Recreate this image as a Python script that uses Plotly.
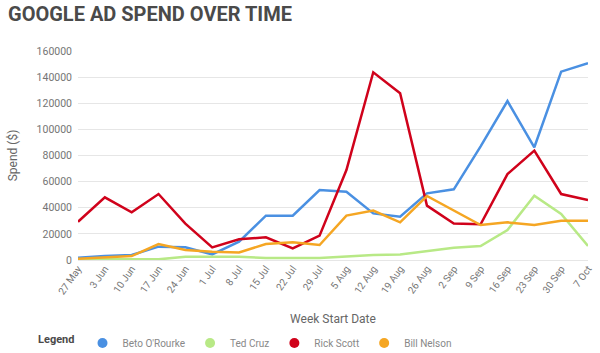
import plotly.graph_objects as go

weeks = ["27 May", "3 Jun", "10 Jun", "17 Jun", "24 Jun", "1 Jul", "8 Jul", "15 Jul", "22 Jul", "29 Jul",
         "5 Aug", "12 Aug", "19 Aug", "26 Aug", "2 Sep", "9 Sep", "16 Sep", "23 Sep", "30 Sep", "7 Oct"]

beto = [1800, 3100, 3800, 10200, 9700, 4300, 14000, 33900, 33900, 53600,
        52300, 35700, 33200, 51000, 54100, 87000, 121700, 86300, 144200, 150600]
cruz = [500, 500, 500, 500, 2500, 2500, 2500, 1500, 1500, 1500,
        2600, 3800, 4300, 7100, 9400, 10700, 23000, 49200, 35200, 10700]
scott = [29300, 48000, 36500, 50500, 27800, 9700, 15800, 17400, 8900, 18600,
         68900, 143700, 127600, 41600, 28000, 27300, 65800, 83700, 50500, 45900]
nelson = [1000, 2000, 3000, 12200, 7700, 6400, 5800, 12200, 13500, 11500,
          34000, 37800, 28800, 49000, 38000, 26800, 28800, 26800, 30100, 30100]

series = [
    ("Beto O'Rourke", beto, "#4A90E2"),
    ("Ted Cruz", cruz, "#B8E986"),
    ("Rick Scott", scott, "#D0021B"),
    ("Bill Nelson", nelson, "#F5A623"),
]

fig = go.Figure()
for name, vals, color in series:
    fig.add_trace(go.Scatter(x=weeks, y=vals, mode="lines", name=name,
                             line=dict(color=color, width=2.5), showlegend=False))
for name, vals, color in series:
    fig.add_trace(go.Scatter(x=[None], y=[None], mode="markers", name=name,
                             marker=dict(color=color, size=10), showlegend=True))

fig.update_layout(
    width=600, height=353,
    margin=dict(l=78, r=12, t=51, b=93, autoexpand=False),
    paper_bgcolor="white", plot_bgcolor="white",
    font=dict(family="Roboto", color="#757575"),
    title=dict(text="<b>GOOGLE AD SPEND OVER TIME</b>", x=8/600, xanchor="left",
               y=1-14/353, yanchor="middle", xref="container", yref="container",
               font=dict(family="Roboto", size=20, color="#4A4A4A")),
    xaxis=dict(type="category", categoryorder="array", categoryarray=weeks,
               range=[0, len(weeks)-1], showgrid=False, zeroline=False, showline=False,
               automargin=False,
               tickangle=-55, tickfont=dict(size=10, color="#757575"), ticks="",
               title=dict(text="Week Start Date", font=dict(size=12, color="#666666"), standoff=18)),
    yaxis=dict(range=[0, 160000], dtick=20000, tickformat="d", automargin=False,
               showgrid=True, gridcolor="#E6E6E6", gridwidth=1,
               zeroline=True, zerolinecolor="#E6E6E6", zerolinewidth=1,
               tickfont=dict(size=10.5, color="#757575"), ticks="", ticklabelstandoff=5,
               title=dict(text="Spend ($)", font=dict(size=12, color="#666666"), standoff=16)),
    legend=dict(orientation="h", xref="container", yref="container",
                x=36/600, xanchor="left", y=1-343/353, yanchor="middle",
                title=dict(text="<b>Legend</b>", side="left", font=dict(size=11, color="#4A4A4A")),
                font=dict(size=10, color="#888888"), itemwidth=30),
)

fig.write_html("out.html")
